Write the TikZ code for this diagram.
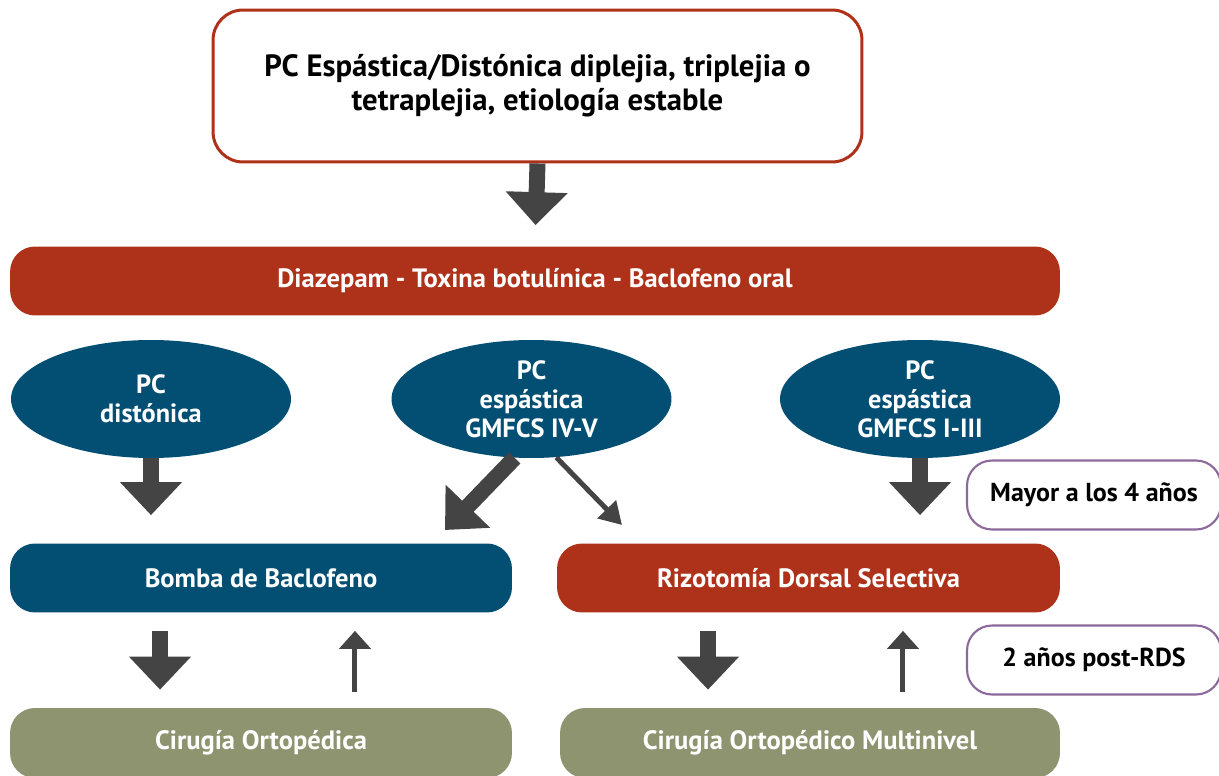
\documentclass[tikz,border=0pt]{standalone}
\usepackage{fontspec}
\setmainfont{PT Sans}
\usetikzlibrary{arrows.meta,shapes.geometric}
\definecolor{rdsred}{HTML}{AE3219}
\definecolor{pcblue}{HTML}{034E73}
\definecolor{cirolive}{HTML}{8E9370}
\definecolor{arrgray}{HTML}{444444}
\definecolor{notepurple}{HTML}{8B6A9B}

\begin{document}
\begin{tikzpicture}[x=0.02cm, y=-0.02cm,
	box/.style={rounded corners=0.5cm, minimum height=1.38cm, inner sep=0pt, text=white, font=\fontsize{15.1}{18}\selectfont\bfseries},
	pc/.style={ellipse, fill=pcblue, text=white, minimum width=5.6cm, minimum height=2.36cm, inner sep=0pt, align=center, font=\fontsize{15}{16.4}\selectfont\bfseries},
	topbox/.style={draw=rdsred, line width=1.7pt, fill=white, rounded corners=0.6cm, minimum width=12.98cm, minimum height=3.04cm, align=center, font=\fontsize{17.5}{19.3}\selectfont\bfseries},
	note/.style={draw=notepurple, line width=1.2pt, fill=white, rounded corners=0.5cm, minimum width=5.08cm, minimum height=1.38cm, font=\fontsize{14.8}{17}\selectfont\bfseries},
	big/.style={arrgray, line width=0.32cm, -{Triangle[length=0.66cm, width=1.2cm]}},
	thin/.style={arrgray, line width=0.1cm, -{Triangle[length=0.36cm, width=0.62cm]}}]
	\useasboundingbox (0,0) rectangle (1219,776);
	\clip (0,0) rectangle (1219,776);

	\node[topbox] (cond) at (537.5,86) {PC Espástica/Distónica diplejia, triplejia o\\tetraplejia, etiología estable};
	\node[box, fill=rdsred, minimum width=21cm] (meds) at (535,281) {Diazepam - Toxina botulínica - Baclofeno oral};
	\node[pc] (dist) at (151,399) {PC\\distónica};
	\node[pc] (gmiv) at (531.5,399) {PC\\espástica\\GMFCS IV-V};
	\node[pc] (gmi) at (920,399) {PC\\espástica\\GMFCS I-III};
	\node[box, fill=pcblue, minimum width=10.04cm] (bomba) at (261,578) {Bomba de Baclofeno};
	\node[box, fill=rdsred, minimum width=10.06cm] (rds) at (808.5,578) {Rizotomía Dorsal Selectiva};
	\node[box, fill=cirolive, minimum width=10.04cm, minimum height=1.4cm] (orto) at (261,743) {Cirugía Ortopédica};
	\node[box, fill=cirolive, minimum width=10cm, minimum height=1.4cm] (multi) at (810,743) {Cirugía Ortopédico Multinivel};
	\node[note] (edad) at (1094,495) {Mayor a los 4 años};
	\node[note] (post) at (1094,660) {2 años post-RDS};

	% free ends of the two slanted arrows
	\coordinate (bombatip) at (445,530);
	\coordinate (rdstip) at (622,525);

	\draw[big, shorten >=0.42cm] (cond.south) -- (meds.north);
	\draw[big, shorten >=0.56cm] (dist.south) -- (dist.south |- bomba.north);
	\draw[big, shorten >=0.56cm] (gmi.south) -- (gmi.south |- rds.north);
	\draw[big] (gmiv.-106) -- (bombatip);
	\draw[thin, -{Triangle[length=0.44cm, width=0.5cm]}] (gmiv.-67) -- (rdstip);

	\draw[big, shorten <=0.36cm, shorten >=0.36cm] ([xshift=-2.02cm]bomba.south) -- ([xshift=-2.02cm]bomba.south |- orto.north);
	\draw[thin, shorten <=0.32cm, shorten >=0.36cm] ([xshift=1.88cm]orto.north) -- ([xshift=1.88cm]orto.north |- bomba.south);
	\draw[big, shorten <=0.36cm, shorten >=0.36cm] ([xshift=-2.01cm]rds.south) -- ([xshift=-2.01cm]rds.south |- multi.north);
	\draw[thin, shorten <=0.32cm, shorten >=0.36cm] ([xshift=1.86cm]multi.north) -- ([xshift=1.86cm]multi.north |- rds.south);
\end{tikzpicture}
\end{document}
